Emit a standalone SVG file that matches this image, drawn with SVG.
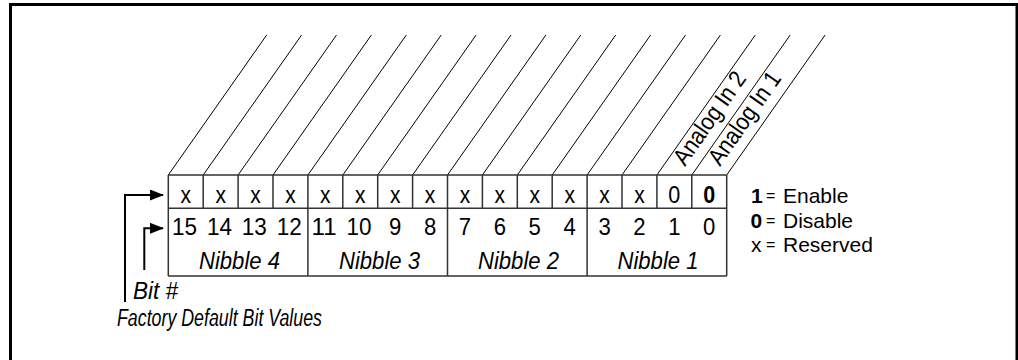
<svg xmlns="http://www.w3.org/2000/svg" width="1018" height="360" viewBox="0 0 1018 360">
<style>
  text { font-family: "Liberation Sans", Arial, sans-serif; fill: #000; }
  .cell { font-size: 24px; text-anchor: middle; }
  .nib { font-size: 24px; font-style: italic; text-anchor: middle; }
  .lab { font-size: 23px; font-style: italic; }
  .leg { font-size: 21px; }
  .eq { font-size: 16px; }
  .ana { font-size: 24px; }
  .grid { stroke: #333; stroke-width: 1.5; fill: none; }
  .diag { stroke: #000; stroke-width: 1; fill: none; }
  .frame { stroke: #000; fill: none; }
  .conn { stroke: #000; stroke-width: 2; fill: none; marker-end: url(#arrow); }
</style>
<defs>
  <marker id="arrow" markerUnits="userSpaceOnUse" markerWidth="14" markerHeight="11" refX="13" refY="5.5" orient="auto">
    <path d="M0,0 L14,5.5 L0,11 z" fill="#000"/>
  </marker>
</defs>
<rect width="1018" height="360" fill="#fff"/>
<g id="frame">
  <path class="frame" stroke-width="3" d="M10.5,360 V4.5 H1017 V360"/>
</g>
<g id="diagonals">
  <path class="diag" d="M168.3,175 l98.4,-140 M203.2,175 l98.4,-140 M238.1,175 l98.4,-140 M273,175 l98.4,-140 M307.9,175 l98.4,-140 M342.8,175 l98.4,-140 M377.7,175 l98.4,-140 M412.6,175 l98.4,-140 M447.5,175 l98.4,-140 M482.4,175 l98.4,-140 M517.3,175 l98.4,-140 M552.2,175 l98.4,-140 M587.1,175 l98.4,-140 M622,175 l98.4,-140 M656.9,175 l98.4,-140 M691.8,175 l98.4,-140 M726.7,175 l98.4,-140"/>
  <text class="ana" transform="translate(685,167) rotate(-54.9)" textLength="108" lengthAdjust="spacingAndGlyphs">Analog In 2</text>
  <text class="ana" transform="translate(719.9,167) rotate(-54.9)" textLength="108" lengthAdjust="spacingAndGlyphs">Analog In 1</text>
</g>
<g id="register">
  <path class="grid" d="M168.3,175 H726.7 M168.3,208.3 H726.7 M168.3,276 H726.7
    M168.3,175 V276 M203.2,175 V208.3 M238.1,175 V208.3 M273,175 V208.3 M307.9,175 V276
    M342.8,175 V208.3 M377.7,175 V208.3 M412.6,175 V208.3 M447.5,175 V276
    M482.4,175 V208.3 M517.3,175 V208.3 M552.2,175 V208.3 M587.1,175 V276
    M622,175 V208.3 M656.9,175 V208.3 M691.8,175 V208.3 M726.7,175 V276"/>
  <g id="values">
    <text class="cell" x="185.75" y="203" textLength="10.5" lengthAdjust="spacingAndGlyphs">x</text>
    <text class="cell" x="220.65" y="203" textLength="10.5" lengthAdjust="spacingAndGlyphs">x</text>
    <text class="cell" x="255.55" y="203" textLength="10.5" lengthAdjust="spacingAndGlyphs">x</text>
    <text class="cell" x="290.45" y="203" textLength="10.5" lengthAdjust="spacingAndGlyphs">x</text>
    <text class="cell" x="325.35" y="203" textLength="10.5" lengthAdjust="spacingAndGlyphs">x</text>
    <text class="cell" x="360.25" y="203" textLength="10.5" lengthAdjust="spacingAndGlyphs">x</text>
    <text class="cell" x="395.15" y="203" textLength="10.5" lengthAdjust="spacingAndGlyphs">x</text>
    <text class="cell" x="430.05" y="203" textLength="10.5" lengthAdjust="spacingAndGlyphs">x</text>
    <text class="cell" x="464.95" y="203" textLength="10.5" lengthAdjust="spacingAndGlyphs">x</text>
    <text class="cell" x="499.85" y="203" textLength="10.5" lengthAdjust="spacingAndGlyphs">x</text>
    <text class="cell" x="534.75" y="203" textLength="10.5" lengthAdjust="spacingAndGlyphs">x</text>
    <text class="cell" x="569.65" y="203" textLength="10.5" lengthAdjust="spacingAndGlyphs">x</text>
    <text class="cell" x="604.55" y="203" textLength="10.5" lengthAdjust="spacingAndGlyphs">x</text>
    <text class="cell" x="639.45" y="203" textLength="10.5" lengthAdjust="spacingAndGlyphs">x</text>
    <text class="cell" x="674.35" y="203" textLength="12" lengthAdjust="spacingAndGlyphs">0</text>
    <text class="cell" x="709.25" y="203" font-weight="bold" textLength="12" lengthAdjust="spacingAndGlyphs">0</text>
  </g>
  <g id="bits">
    <text class="cell" x="184.5" y="235" textLength="25" lengthAdjust="spacingAndGlyphs">15</text>
    <text class="cell" x="219.4" y="235" textLength="25" lengthAdjust="spacingAndGlyphs">14</text>
    <text class="cell" x="254.3" y="235" textLength="25" lengthAdjust="spacingAndGlyphs">13</text>
    <text class="cell" x="289.2" y="235" textLength="25" lengthAdjust="spacingAndGlyphs">12</text>
    <text class="cell" x="324.1" y="235" textLength="25" lengthAdjust="spacingAndGlyphs">11</text>
    <text class="cell" x="359" y="235" textLength="25" lengthAdjust="spacingAndGlyphs">10</text>
    <text class="cell" x="395.15" y="235" textLength="12.3" lengthAdjust="spacingAndGlyphs">9</text>
    <text class="cell" x="430.05" y="235" textLength="12.3" lengthAdjust="spacingAndGlyphs">8</text>
    <text class="cell" x="464.95" y="235" textLength="12.3" lengthAdjust="spacingAndGlyphs">7</text>
    <text class="cell" x="499.85" y="235" textLength="12.3" lengthAdjust="spacingAndGlyphs">6</text>
    <text class="cell" x="534.75" y="235" textLength="12.3" lengthAdjust="spacingAndGlyphs">5</text>
    <text class="cell" x="569.65" y="235" textLength="12.3" lengthAdjust="spacingAndGlyphs">4</text>
    <text class="cell" x="604.55" y="235" textLength="12.3" lengthAdjust="spacingAndGlyphs">3</text>
    <text class="cell" x="639.45" y="235" textLength="12.3" lengthAdjust="spacingAndGlyphs">2</text>
    <text class="cell" x="674.35" y="235" textLength="12.3" lengthAdjust="spacingAndGlyphs">1</text>
    <text class="cell" x="709.25" y="235" textLength="12.3" lengthAdjust="spacingAndGlyphs">0</text>
  </g>
  <g id="nibbles">
    <text class="nib" x="239.5" y="269" textLength="81" lengthAdjust="spacingAndGlyphs">Nibble 4</text>
    <text class="nib" x="379.5" y="269" textLength="81" lengthAdjust="spacingAndGlyphs">Nibble 3</text>
    <text class="nib" x="518.5" y="269" textLength="81" lengthAdjust="spacingAndGlyphs">Nibble 2</text>
    <text class="nib" x="658" y="269" textLength="81" lengthAdjust="spacingAndGlyphs">Nibble 1</text>
  </g>
</g>
<g id="legend">
  <text class="leg" x="751" y="203" font-weight="bold">1</text>
  <text class="eq" x="766" y="201">=</text>
  <text class="leg" x="783" y="203">Enable</text>
  <text class="leg" x="750.5" y="227.5" font-weight="bold">0</text>
  <text class="eq" x="766" y="225.5">=</text>
  <text class="leg" x="783" y="227.5">Disable</text>
  <text class="leg" x="751" y="251.5">x</text>
  <text class="eq" x="766" y="249.5">=</text>
  <text class="leg" x="783" y="251.5">Reserved</text>
</g>
<g id="label-bit">
  <text class="lab" x="133" y="299" textLength="45" lengthAdjust="spacingAndGlyphs">Bit #</text>
</g>
<g id="label-default">
  <text class="lab" x="117" y="326" textLength="205" lengthAdjust="spacingAndGlyphs">Factory Default Bit Values</text>
</g>
<g id="connectors">
  <path class="conn" d="M125,302 V195 H163"/>
  <path class="conn" d="M144.3,270 V228.3 H163"/>
</g>
</svg>
